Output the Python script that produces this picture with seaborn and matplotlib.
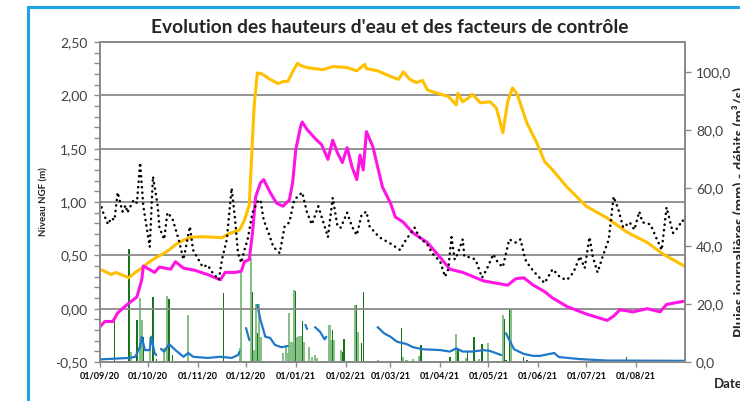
import numpy as np
import pandas as pd
import matplotlib
matplotlib.use("Agg")
import matplotlib.pyplot as plt
from matplotlib.patches import Rectangle
from matplotlib.ticker import FuncFormatter, MultipleLocator
import matplotlib.dates as mdates
import seaborn as sns

# Toutes les séries sont repérées en jours depuis le 01/09/2020
DEBUT = pd.Timestamp("2020-09-01")

# Piézomètre jaune - niveau NGF (m)
jours_jaune = [0, 7, 10, 13, 18, 22, 26, 30, 35, 40, 43, 47, 53, 57, 64, 76, 80, 87, 90, 93,
               96, 98, 101, 106, 111, 114, 117, 120, 123, 125, 129, 139, 145, 154, 160, 165, 166,
               173, 179, 184, 186, 189, 193, 197, 201, 204, 210, 217, 222, 223, 226, 230, 232,
               237, 243, 247, 251, 254, 257, 260, 266, 272, 277, 282, 291, 303, 316, 328, 341,
               351, 364]
niveau_jaune = [0.37, 0.32, 0.34, 0.32, 0.29, 0.34, 0.38, 0.43, 0.48, 0.52, 0.55, 0.60, 0.65,
                0.67, 0.675, 0.665, 0.70, 0.74, 0.83, 0.97, 1.89, 2.21, 2.20, 2.15, 2.11, 2.13,
                2.13, 2.22, 2.30, 2.28, 2.26, 2.24, 2.27, 2.26, 2.23, 2.29, 2.25, 2.23, 2.19,
                2.16, 2.15, 2.22, 2.15, 2.12, 2.14, 2.05, 2.02, 1.99, 1.91, 2.02, 1.94, 1.98,
                2.01, 1.93, 1.94, 1.88, 1.65, 1.94, 2.07, 2.01, 1.74, 1.56, 1.38, 1.30, 1.14,
                0.96, 0.85, 0.72, 0.62, 0.51, 0.40]

# Piézomètre magenta - niveau NGF (m)
jours_magenta = [0, 3, 8, 11, 17, 23, 26, 27, 34, 37, 44, 47, 52, 59, 67, 75, 78, 84, 88, 90,
                 93, 95, 97, 100, 102, 106, 110, 114, 118, 120, 122, 125, 126, 129, 135, 138,
                 142, 145, 148, 151, 154, 157, 160, 162, 164, 166, 170, 176, 181, 184, 189, 195,
                 204, 212, 218, 226, 239, 254, 259, 264, 270, 277, 282, 291, 303, 316, 320, 324,
                 332, 341, 349, 353, 364]
niveau_magenta = [-0.17, -0.12, -0.12, -0.04, 0.04, 0.11, 0.27, 0.40, 0.34, 0.39, 0.37, 0.44,
                  0.38, 0.36, 0.32, 0.27, 0.34, 0.34, 0.35, 0.44, 0.46, 0.71, 1.05, 1.18, 1.21,
                  1.09, 0.99, 0.96, 1.02, 1.18, 1.49, 1.71, 1.75, 1.68, 1.58, 1.54, 1.40, 1.58,
                  1.46, 1.37, 1.51, 1.33, 1.21, 1.44, 1.30, 1.66, 1.52, 1.14, 0.99, 0.86, 0.81,
                  0.71, 0.62, 0.48, 0.37, 0.34, 0.26, 0.22, 0.28, 0.29, 0.22, 0.16, 0.10, 0.02,
                  -0.05, -0.11, -0.07, -0.01, -0.03, 0.00, -0.03, 0.04, 0.07]

# Piézomètre pointillé noir - niveau NGF (m)
jours_noir = [0, 2, 5, 7, 9, 11, 14, 16, 17, 21, 23, 25, 27, 31, 33, 36, 37, 40, 42, 45, 49,
              52, 56, 58, 64, 67, 70, 74, 76, 79, 82, 84, 86, 88, 90, 92, 95, 98, 100, 102, 105,
              108, 112, 115, 118, 121, 126, 129, 132, 136, 140, 142, 145, 148, 150, 154, 157,
              160, 163, 166, 168, 174, 181, 187, 190, 196, 199, 204, 207, 212, 215, 217, 219,
              221, 223, 226, 227, 231, 234, 238, 241, 245, 248, 251, 255, 259, 262, 265, 268,
              272, 277, 282, 287, 291, 295, 299, 302, 305, 307, 310, 313, 317, 320, 323, 326,
              330, 333, 336, 338, 343, 347, 350, 353, 357, 360, 363, 364]
niveau_noir = [1.00, 0.90, 0.79, 0.85, 0.83, 1.09, 0.91, 0.97, 0.90, 1.02, 0.99, 1.37, 0.96,
               0.58, 1.24, 0.96, 0.76, 0.65, 0.90, 0.85, 0.65, 0.46, 0.77, 0.55, 0.39, 0.41,
               0.34, 0.27, 0.46, 0.65, 1.13, 0.86, 0.52, 0.43, 0.55, 0.65, 0.90, 1.00, 1.02,
               0.83, 0.71, 0.58, 0.52, 0.77, 0.81, 1.02, 1.09, 0.90, 0.79, 0.96, 0.77, 0.67,
               1.04, 0.77, 0.76, 0.90, 0.77, 0.69, 0.88, 0.91, 0.77, 0.67, 0.61, 0.55, 0.63,
               0.76, 0.67, 0.60, 0.52, 0.44, 0.30, 0.37, 0.67, 0.46, 0.52, 0.65, 0.49, 0.48,
               0.46, 0.29, 0.37, 0.51, 0.43, 0.39, 0.65, 0.62, 0.65, 0.46, 0.39, 0.32, 0.24,
               0.37, 0.29, 0.27, 0.34, 0.49, 0.38, 0.67, 0.49, 0.34, 0.48, 0.65, 1.05, 0.93,
               0.76, 0.81, 0.74, 0.91, 0.81, 0.79, 0.65, 0.55, 0.95, 0.71, 0.76, 0.83, 0.79]

# Débit (m3/s) - la série a des trous, un tronçon par période mesurée
jours_debit = [
    [0, 18, 22, 25, 26, 28, 31, 32, 34, 35],
    [38, 40, 43, 47, 52, 55, 58, 67, 75, 82, 86, 87],
    [91, 93],
    [98, 100, 103, 106, 109, 113, 117],
    [128, 129],
    [134, 137, 140, 141],
    [173, 177, 181, 185, 191, 195, 201, 212, 218, 222, 226, 232, 239, 243, 250],
    [253, 255, 258, 264, 270, 274, 283, 286, 299, 316, 364],
]
debit = [
    [0.9, 1.4, 1.8, 5.3, 8.7, 4.1, 4.1, 8.7, 3.1, 2.4],
    [4.5, 3.6, 6.2, 4.1, 1.8, 3.1, 1.8, 1.4, 1.8, 1.4, 2.4, 3.6],
    [11.7, 7.6],
    [19.7, 14.5, 8.7, 8.3, 5.9, 5.1, 5.5],
    [12.8, 11.4],
    [12.0, 10.5, 7.8, 8.7],
    [12.0, 9.9, 8.7, 7.0, 6.2, 5.1, 4.4, 4.1, 3.6, 4.7, 3.6, 3.6, 4.1, 3.8, 2.4],
    [9.9, 7.6, 4.4, 2.8, 2.1, 2.1, 3.1, 1.7, 1.0, 0.5, 0.4],
]

# Pluies journalières (mm) - deux stations
jours_pluie_1 = [9, 18, 23, 27, 33, 35, 43, 45, 77, 95, 98, 122, 126, 145, 151, 152, 160, 163,
                 164, 188, 200, 218, 223, 229, 233, 238, 252, 253, 255, 264, 266, 328]
pluie_1 = [15.9, 39.0, 14.5, 8.6, 22.4, 1.0, 21.7, 2.4, 23.8, 24.0, 10.0, 24.5, 14.0, 11.0,
           3.4, 7.9, 19.7, 6.6, 24.0, 11.7, 5.9, 1.7, 4.1, 3.4, 8.6, 6.2, 14.8, 0.8, 18.3,
           1.7, 0.7, 1.7]
jours_pluie_2 = [19, 25, 26, 31, 40, 42, 55, 87, 88, 94, 96, 97, 99, 100, 114, 116, 117, 118,
                 119, 120, 121, 123, 124, 125, 127, 130, 132, 134, 135, 143, 144, 146, 150,
                 159, 161, 173, 189, 191, 195, 199, 222, 228, 236, 242, 251, 256]
pluie_2 = [3.4, 22.0, 14.5, 8.6, 4.8, 22.8, 16.2, 4.8, 30.6, 36.0, 4.0, 20.0, 20.0, 8.6, 3.0,
           5.0, 3.0, 17.0, 7.0, 7.0, 24.8, 8.6, 9.0, 9.0, 7.0, 5.3, 1.7, 2.4, 1.5, 12.8, 7.6,
           7.6, 4.0, 19.7, 10.3, 0.8, 1.7, 0.8, 1.0, 2.0, 9.7, 1.4, 1.0, 6.6, 16.2, 18.3]


def en_dates(jours):
    return DEBUT + pd.to_timedelta(np.asarray(jours, dtype=float), unit="D")


sns.set_style("white")
plt.rcParams["font.family"] = ["Lato", "DejaVu Sans"]

GRIS = "#8a8a8a"
TEXTE = "#404040"

fig = plt.figure(figsize=(7.4, 4.01), dpi=100)
ax = fig.add_axes([100 / 740, 1 - 362 / 401, 585 / 740, 320 / 401])
ax2 = ax.twinx()

# pluies + débits sur l'axe de droite, en dessous des niveaux
ax2.bar(en_dates(jours_pluie_2), pluie_2, width=1.3, color="#79b979", alpha=0.9,
        linewidth=0, zorder=1)
ax2.bar(en_dates(jours_pluie_1), pluie_1, width=0.8, color="#197319", linewidth=0, zorder=2)
for j, q in zip(jours_debit, debit):
    sns.lineplot(x=en_dates(j), y=q, ax=ax2, color="#1f78c8", lw=1.6, legend=False, zorder=3)

sns.lineplot(x=en_dates(jours_jaune), y=niveau_jaune, ax=ax, color="#ffc000", lw=2.2, legend=False)
sns.lineplot(x=en_dates(jours_magenta), y=niveau_magenta, ax=ax, color="#ff14e6", lw=2.2, legend=False)
sns.lineplot(x=en_dates(jours_noir), y=niveau_noir, ax=ax, color="black", lw=1.8,
             linestyle=(0, (0.1, 2.1)), dash_capstyle="round", legend=False)

ax.set_zorder(ax2.get_zorder() + 1)
ax.patch.set_visible(False)

ax.set_xlim(DEBUT, DEBUT + pd.Timedelta(days=364.5))
ax.set_ylim(-0.5, 2.5)
ax2.set_ylim(0, 110.3)

ax.yaxis.set_major_locator(MultipleLocator(0.5))
ax.yaxis.set_minor_locator(MultipleLocator(0.1))
ax.yaxis.set_major_formatter(FuncFormatter(lambda v, p: f"{v:.2f}".replace(".", ",")))
ax2.yaxis.set_major_locator(MultipleLocator(20))
ax2.yaxis.set_major_formatter(FuncFormatter(lambda v, p: f"{v:.1f}".replace(".", ",")))
ax.xaxis.set_major_locator(mdates.MonthLocator())
ax.xaxis.set_major_formatter(mdates.DateFormatter("%d/%m/%y"))

ax.grid(axis="y", which="major", color=GRIS, lw=1.3)
ax.grid(axis="x", visible=False)
ax2.grid(False)
for a in (ax, ax2):
    for s in a.spines.values():
        s.set_color(GRIS)
        s.set_linewidth(1.3)

ax.tick_params(axis="y", which="both", direction="out", length=4, width=1, color=GRIS,
               labelsize=10, labelcolor=TEXTE, pad=5, left=True)
ax.tick_params(axis="x", direction="out", length=3.5, width=1, color=GRIS, bottom=True,
               labelsize=6.5, labelcolor="black", pad=3)
for t in ax.get_xticklabels():
    t.set_fontweight("bold")
ax2.tick_params(axis="y", direction="out", length=4, width=1, color=GRIS, right=True,
                labelsize=10, labelcolor=TEXTE, pad=4)

ax.set_xlabel("")
ax.set_ylabel("Niveau NGF (m)", fontsize=7, fontweight="bold", labelpad=5)
ax2.set_ylabel("")

fig.text(390 / 740, 1 - 27.5 / 401, "Evolution des hauteurs d'eau et des facteurs de contrôle",
         ha="center", va="center", fontsize=13.8, fontweight="bold")
fig.text(714 / 740, 1 - 384 / 401, "Date", ha="left", va="center", fontsize=9.5, fontweight="bold")
fig.text(1.0, 1 - 212 / 401, "Pluies journalières (mm) - débits (m³/s)", rotation=90,
         ha="center", va="center", fontsize=10.5, fontweight="bold")

# cadre bleu du graphique (coupé à droite et en bas)
fig.add_artist(Rectangle((28 / 740, -0.2), 1.5, 1.2 - 7 / 401, transform=fig.transFigure,
                         fill=False, edgecolor="#1ea5e0", lw=2.2))

fig.savefig("out.png", dpi=100)
